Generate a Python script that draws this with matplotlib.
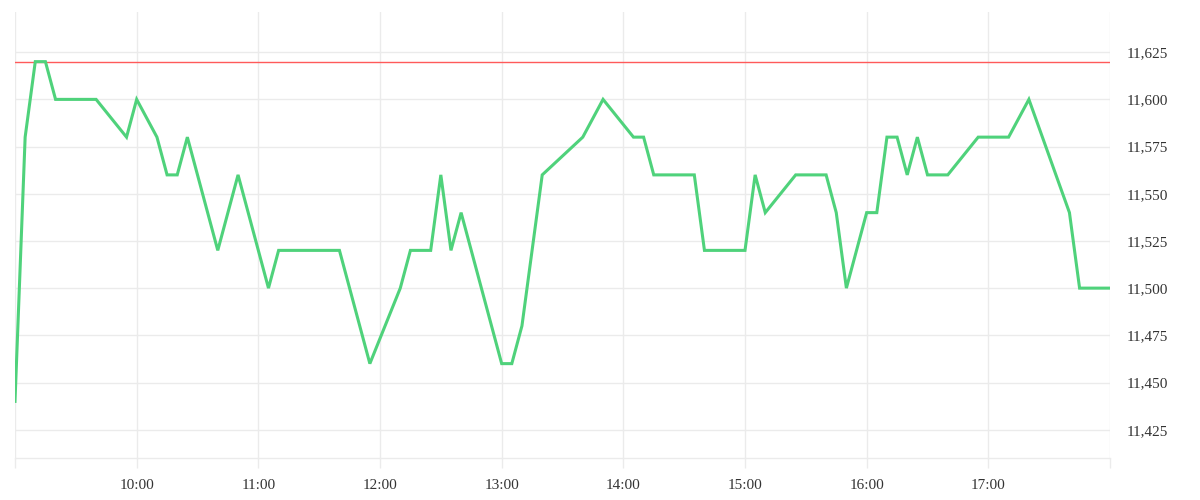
import matplotlib
matplotlib.use("Agg")
import matplotlib.pyplot as plt
from matplotlib.ticker import FixedLocator, FuncFormatter

# ---- data ----
times = ["09:00", "09:05", "09:10", "09:15", "09:20", "09:40", "09:55", "10:00",
         "10:10", "10:15", "10:20", "10:25", "10:40", "10:50", "11:05", "11:10",
         "11:40", "11:55", "12:10", "12:15", "12:25", "12:30", "12:35", "12:40",
         "13:00", "13:05", "13:10", "13:20", "13:40", "13:50", "14:05", "14:10",
         "14:15", "14:35", "14:40", "15:00", "15:05", "15:10", "15:25", "15:40",
         "15:45", "15:50", "16:00", "16:05", "16:10", "16:15", "16:20", "16:25",
         "16:30", "16:40", "16:55", "17:10", "17:20", "17:40", "17:45", "18:00"]
prices = [11440, 11580, 11620, 11620, 11600, 11600, 11580, 11600,
          11580, 11560, 11560, 11580, 11520, 11560, 11500, 11520,
          11520, 11460, 11500, 11520, 11520, 11560, 11520, 11540,
          11460, 11460, 11480, 11560, 11580, 11600, 11580, 11580,
          11560, 11560, 11520, 11520, 11560, 11540, 11560, 11560,
          11540, 11500, 11540, 11540, 11580, 11580, 11560, 11580,
          11560, 11560, 11580, 11580, 11600, 11540, 11500, 11500]
reference_level = 11620
hour_ticks = ["09:00", "10:00", "11:00", "12:00", "13:00", "14:00", "15:00",
              "16:00", "17:00", "18:00"]
price_ticks = [11425, 11450, 11475, 11500, 11525, 11550, 11575, 11600, 11625]


def to_min(s):
    h, m = s.split(":")
    return int(h) * 60 + int(m)


x = [to_min(t) for t in times]
xt = [to_min(t) for t in hour_ticks]

plt.rcParams['font.family'] = ['Liberation Serif', 'DejaVu Serif']
GRID = "#ebebeb"

fig = plt.figure(figsize=(12, 5), dpi=100)
ax = fig.add_axes([0.0125, 0.084, 0.9125, 0.892])

ax.plot(x, prices, color="#4fd27b", lw=2.2, solid_joinstyle="miter", zorder=3)
ax.axhline(reference_level, color="#ff5a5a", lw=1.0, zorder=2)

ax.set_xlim(xt[0], xt[-1])
ax.set_ylim(11410, 11646.3)

ax.xaxis.set_major_locator(FixedLocator(xt))
first, last = xt[0], xt[-1]
ax.xaxis.set_major_formatter(FuncFormatter(
    lambda v, p: "" if v in (first, last) else f"{int(v)//60:02d}:{int(v)%60:02d}"))
ax.yaxis.set_major_locator(FixedLocator(price_ticks))
ax.yaxis.set_major_formatter(FuncFormatter(lambda v, p: f"{int(v):,}"))

ax.yaxis.tick_right()
ax.grid(True, color=GRID, lw=1.0, zorder=0)
ax.set_axisbelow(True)

for s in ("top", "left", "right"):
    ax.spines[s].set_visible(False)
ax.spines["bottom"].set_color(GRID)
ax.spines["bottom"].set_linewidth(1.0)

ax.tick_params(axis="x", length=7, width=1.0, color=GRID, labelsize=11,
               labelcolor="#333333", pad=8)
ax.tick_params(axis="y", length=0, labelsize=11, labelcolor="#333333", pad=12)

fig.savefig("out.png", dpi=100, facecolor="white")
